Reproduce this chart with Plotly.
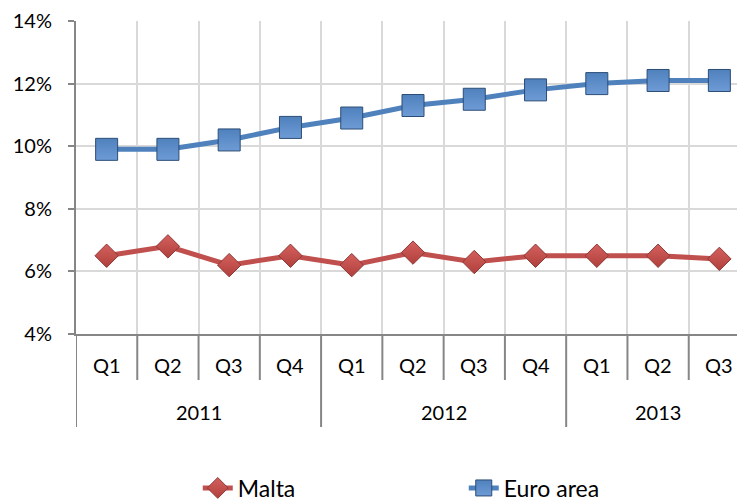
import plotly.graph_objects as go

quarters = ["Q1", "Q2", "Q3", "Q4", "Q1", "Q2", "Q3", "Q4", "Q1", "Q2", "Q3"]
years = ["2011", "2012", "2013"]
year_counts = [4, 4, 3]
malta = [6.5, 6.8, 6.2, 6.5, 6.2, 6.6, 6.3, 6.5, 6.5, 6.5, 6.4]
euro_area = [9.9, 9.9, 10.2, 10.6, 10.9, 11.3, 11.5, 11.8, 12.0, 12.1, 12.1]
y_ticks = [4, 6, 8, 10, 12, 14]

FONT = "Lato"
x = list(range(len(quarters)))

fig = go.Figure()
fig.add_trace(go.Scatter(
    x=x, y=malta, name="Malta", mode="lines+markers",
    line=dict(color="#C0504D", width=5),
    marker=dict(symbol="diamond", size=18, color="#D4605D",
                gradient=dict(type="vertical", color="#B0403D"),
                line=dict(color="#8C3836", width=1)),
))
fig.add_trace(go.Scatter(
    x=x, y=euro_area, name="Euro area", mode="lines+markers",
    line=dict(color="#4F81BD", width=5),
    marker=dict(symbol="square", size=22, color="#4F81BD",
                gradient=dict(type="vertical", color="#6E9BD6"),
                line=dict(color="#2C4D75", width=1)),
))

n = len(quarters)
bounds = [i - 0.5 for i in range(n + 1)]

# page body has an 8px margin: figure coords = window coords - 8
OFF = 8
W, H = 745 - OFF, 504 - OFF
TOP, BOT, LEFT = 21 - OFF, 334 - OFF, 76 - OFF
plot_h = BOT - TOP
def py(pix):
    return (BOT - (pix - OFF)) / plot_h

shapes = []
year_bounds = [-0.5]
acc = -0.5
for c in year_counts:
    acc += c
    year_bounds.append(acc)
for b in bounds:
    if b > 10.45:
        continue
    bottom = py(427) if b in year_bounds else py(380)
    shapes.append(dict(type="line", xref="x", yref="paper", x0=b, x1=b,
                       y0=0, y1=bottom, line=dict(color="#868686", width=2),
                       layer="above"))

annotations = []
for i, q in enumerate(quarters):
    annotations.append(dict(x=i, y=py(365), xref="x", yref="paper", text=q,
                            showarrow=False, yanchor="middle",
                            font=dict(family=FONT, size=20, color="#000")))
start = 0
for yr, c in zip(years, year_counts):
    mid = start + (c - 1) / 2
    annotations.append(dict(x=mid, y=py(412), xref="x", yref="paper", text=yr,
                            showarrow=False, yanchor="middle",
                            font=dict(family=FONT, size=20, color="#000")))
    start += c

right_end = 10.5 - 5 / 61.3
fig.update_layout(
    width=W, height=H,
    margin=dict(l=LEFT, r=0, t=TOP, b=H - BOT, autoexpand=False),
    paper_bgcolor="white", plot_bgcolor="white",
    font=dict(family=FONT, size=20, color="#000"),
    xaxis=dict(range=[-0.5, right_end], tickvals=bounds, showticklabels=False,
               ticks="", showgrid=True, gridcolor="#D9D9D9", gridwidth=2,
               zeroline=False, showline=True, linecolor="#868686", linewidth=2,
               automargin=False),
    yaxis=dict(range=[4, 14], tickvals=y_ticks,
               ticktext=[f"{v}%" for v in y_ticks],
               showgrid=True, gridcolor="#D9D9D9", gridwidth=2, zeroline=False,
               showline=True, linecolor="#868686", linewidth=2,
               ticks="outside", ticklen=6, tickcolor="#868686", tickwidth=2,
               ticklabelstandoff=12, tickfont=dict(family=FONT, size=20),
               automargin=False),
    legend=dict(orientation="h", x=0.182, xanchor="left", y=py(488),
                yanchor="middle", entrywidth=221, entrywidthmode="pixels",
                font=dict(family=FONT, size=23), bgcolor="rgba(0,0,0,0)"),
    shapes=shapes, annotations=annotations,
)

fig.write_html("out.html")
